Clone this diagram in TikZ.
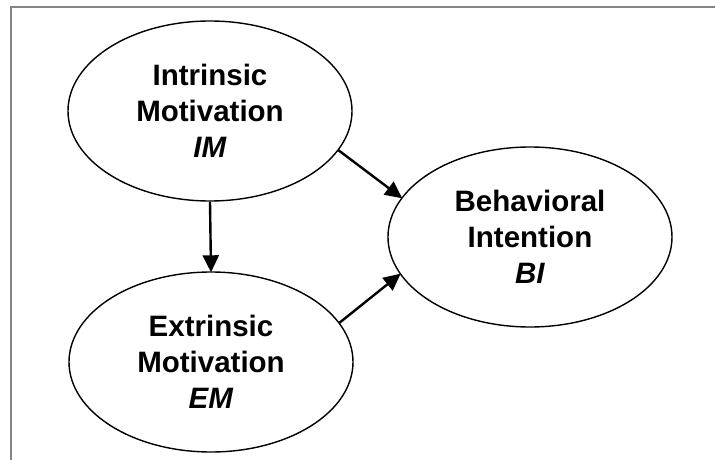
\documentclass[tikz,border=0pt]{standalone}
\usepackage{fontspec}
\setmainfont{Liberation Sans}
\usetikzlibrary{shapes.geometric,arrows.meta}
\tikzset{
  construct/.style={draw=black, line width=1.4pt, ellipse, inner sep=0pt,
    minimum width=284pt, minimum height=180pt, align=center,
    font=\fontsize{29.5}{36}\selectfont\bfseries},
  path arrow/.style={draw=black, line width=2.4pt,
    -{Triangle[length=17pt,width=16pt]}, shorten >=-1pt},
  frame line/.style={draw=black!48, line width=2pt}
}
\begin{document}
\begin{tikzpicture}[x=1pt,y=-1pt]
  \useasboundingbox (0,0) rectangle (715,460);
  % open frame: top and left edges
  \draw[frame line] (715,7) -- (11,7) -- (11,460);
  % constructs
  \node[construct] (im) at (210,111) {Intrinsic\\Motivation\\\textit{IM}};
  \node[construct] (em) at (211,362) {Extrinsic\\Motivation\\\textit{EM}};
  \node[construct] (bi) at (530,237) {Behavioral\\Intention\\\textit{BI}};
  % paths
  \draw[path arrow] (im.south) -- (em.north);
  \draw[path arrow] (im.-17) -- (bi.163);
  \draw[path arrow] (em.17) -- (bi.-164);
\end{tikzpicture}
\end{document}
